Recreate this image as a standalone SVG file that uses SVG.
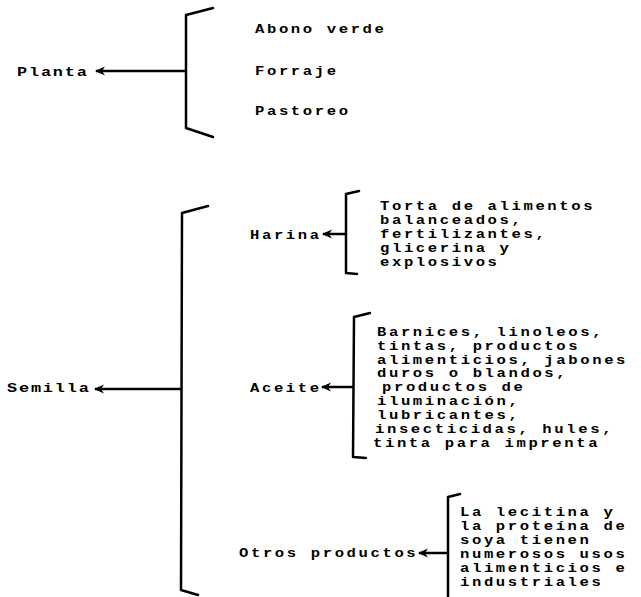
<svg xmlns="http://www.w3.org/2000/svg" width="641" height="597" viewBox="0 0 641 597">
<defs>
<style>
text{font-family:"Liberation Mono","DejaVu Sans Mono",monospace;font-size:12px;letter-spacing:2px;font-weight:bold;fill:#000}
.b{font-size:13px;letter-spacing:1.4px}
.br{fill:none;stroke:#000;stroke-width:2.5;stroke-linejoin:round;stroke-linecap:round}
.c{fill:none;stroke:#000;stroke-width:2.5}
</style>
<marker id="ah" viewBox="0 0 10 10" refX="9" refY="5" markerWidth="10" markerHeight="10" markerUnits="userSpaceOnUse" orient="auto">
<path d="M0,0.5 L10,5 L0,9.5 L3,5 z" fill="#000"/>
</marker>
</defs>
<rect width="641" height="597" fill="#fff"/>
<g id="connectors">
<line class="c" x1="186" y1="71" x2="96" y2="71" marker-end="url(#ah)"/>
<line class="c" x1="181" y1="389" x2="95" y2="389" marker-end="url(#ah)"/>
<line class="c" x1="346" y1="234" x2="323" y2="234" marker-end="url(#ah)"/>
<line class="c" x1="353" y1="387" x2="322" y2="387" marker-end="url(#ah)"/>
<line class="c" x1="448" y1="553" x2="419" y2="553" marker-end="url(#ah)"/>
</g>
<g id="planta">
<text class="b" transform="matrix(1.3,0,0,1,17,76)">Planta</text>
<polyline class="br" points="213,8 186,15 186,128 213,137"/>
<text transform="matrix(1.3,0,0,1,255,33)">Abono verde</text>
<text transform="matrix(1.3,0,0,1,255,75)">Forraje</text>
<text transform="matrix(1.3,0,0,1,255,115)">Pastoreo</text>
</g>
<g id="semilla">
<text class="b" transform="matrix(1.3,0,0,1,7,392)">Semilla</text>
<polyline class="br" points="208,206 182,213 181,590 198,595"/>
</g>
<g id="harina">
<text transform="matrix(1.3,0,0,1,250,239)">Harina</text>
<polyline class="br" points="359,191 346,194 346,273 357,274"/>
<text transform="matrix(1.3,0,0,1,380,210)">Torta de alimentos</text>
<text transform="matrix(1.3,0,0,1,380,224)">balanceados,</text>
<text transform="matrix(1.3,0,0,1,380,238)">fertilizantes,</text>
<text transform="matrix(1.3,0,0,1,380,252)">glicerina y</text>
<text transform="matrix(1.3,0,0,1,380,266)">explosivos</text>
</g>
<g id="aceite">
<text transform="matrix(1.3,0,0,1,250,392)">Aceite</text>
<polyline class="br" points="370,313 354,317 353,457 366,458"/>
<text transform="matrix(1.3,0,0,1,377,336)">Barnices, linoleos,</text>
<text transform="matrix(1.3,0,0,1,377,350)">tintas, productos</text>
<text transform="matrix(1.3,0,0,1,377,364)">alimenticios, jabones</text>
<text transform="matrix(1.3,0,0,1,377,377)">duros o blandos,</text>
<text transform="matrix(1.3,0,0,1,382,391)">productos de</text>
<text transform="matrix(1.3,0,0,1,377,405)">iluminación,</text>
<text transform="matrix(1.3,0,0,1,377,419)">lubricantes,</text>
<text transform="matrix(1.3,0,0,1,375,433)">insecticidas, hules,</text>
<text transform="matrix(1.3,0,0,1,373,447)">tinta para imprenta</text>
</g>
<g id="otros">
<text transform="matrix(1.3,0,0,1,239,557)">Otros productos</text>
<polyline class="br" points="460,494 448,497 448,597"/>
<text transform="matrix(1.3,0,0,1,460,516)">La lecitina y</text>
<text transform="matrix(1.3,0,0,1,460,530)">la proteína de</text>
<text transform="matrix(1.3,0,0,1,460,544)">soya tienen</text>
<text transform="matrix(1.3,0,0,1,460,558)">numerosos usos</text>
<text transform="matrix(1.3,0,0,1,460,572)">alimenticios e</text>
<text transform="matrix(1.3,0,0,1,460,586)">industriales</text>
</g>
</svg>
